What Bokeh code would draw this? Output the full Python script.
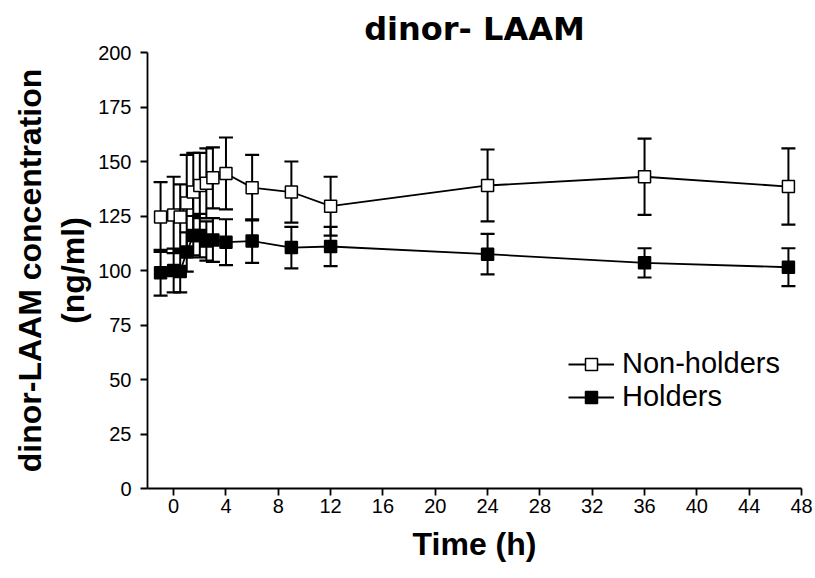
from bokeh.plotting import figure
from bokeh.models import ColumnDataSource, Whisker, TeeHead, Range1d, FixedTicker, Legend, LegendItem
from bokeh.embed import file_html
from bokeh.resources import INLINE

# Data
time_h = [-1, 0, 0.5, 1, 1.5, 2, 2.5, 3, 4, 6, 9, 12, 24, 36, 47]
nonholders_mean = [124.5, 125.5, 124.5, 131, 136, 139, 140, 142.5, 144.5, 138, 136, 129.5, 139, 143, 138.5]
nonholders_sd = [16, 17.5, 15, 22, 18, 15, 16, 14, 16.5, 15, 14, 13.5, 16.5, 17.5, 17.5]
holders_mean = [99, 100, 99.5, 108.5, 116, 116, 113.5, 114, 113, 113.5, 110.5, 111, 107.5, 103.5, 101.5]
holders_sd = [10.5, 10, 9.5, 9, 9, 10, 9, 10, 10.5, 10, 9.5, 9, 9.3, 6.7, 8.7]
x_ticks = [0, 4, 8, 12, 16, 20, 24, 28, 32, 36, 40, 44, 48]
y_ticks = [0, 25, 50, 75, 100, 125, 150, 175, 200]

FONT = "Liberation Sans"

p = figure(width=815, height=578, output_backend="svg", toolbar_location=None,
           x_range=Range1d(-2, 48), y_range=Range1d(0, 200),
           min_border_left=147, min_border_right=14, min_border_top=52, min_border_bottom=90)
p.outline_line_color = None
p.xgrid.visible = False
p.ygrid.visible = False
p.background_fill_color = "white"

p.title.text = "dinor- LAAM"
p.title.text_font = "DejaVu Sans"
p.title.text_font_size = "32px"
p.title.text_font_style = "bold"
p.title.text_color = "black"
p.title.align = "center"
p.title.standoff = 9

for ax in (p.xaxis[0], p.yaxis[0]):
    ax.axis_line_width = 1.8
    ax.major_tick_line_width = 1.8
    ax.major_tick_out = 7
    ax.major_tick_in = 0
    ax.minor_tick_line_color = None
    ax.major_label_text_font = FONT
    ax.major_label_text_font_size = "20px"
    ax.major_label_text_color = "black"
    ax.axis_label_text_font = FONT
    ax.axis_label_text_font_size = "32px"
    ax.axis_label_text_font_style = "bold"
    ax.axis_label_text_color = "black"

p.xaxis.ticker = FixedTicker(ticks=x_ticks)
p.yaxis.ticker = FixedTicker(ticks=y_ticks)
p.xaxis.axis_label = "Time (h)"
p.yaxis.axis_label = "dinor-LAAM concentration\n(ng/ml)"
p.xaxis.major_label_standoff = 3
p.yaxis.major_label_standoff = 9
p.xaxis.axis_label_standoff = 10
p.yaxis.axis_label_standoff = 4

def series(mean, sd):
    return ColumnDataSource(dict(t=time_h, y=mean,
                                 upper=[m + s for m, s in zip(mean, sd)],
                                 lower=[m - s for m, s in zip(mean, sd)]))

src_nh = series(nonholders_mean, nonholders_sd)
src_h = series(holders_mean, holders_sd)

items = []
for src, fill, name in ((src_nh, "white", "Non-holders"), (src_h, "black", "Holders")):
    w = Whisker(base="t", upper="upper", lower="lower", source=src,
                line_width=2, line_color="black",
                upper_head=TeeHead(size=14, line_width=2.2, line_color="black"),
                lower_head=TeeHead(size=14, line_width=2.2, line_color="black"))
    p.add_layout(w)
    ln = p.line("t", "y", source=src, line_color="black", line_width=1.8)
    sc = p.scatter("t", "y", source=src, marker="square", size=12,
                   fill_color=fill, line_color="black", line_width=1.5)
    items.append(LegendItem(label=name, renderers=[ln, sc]))

legend = Legend(items=items, location=(421, 75), orientation="vertical",
                border_line_color=None, background_fill_alpha=0,
                label_text_font=FONT, label_text_font_size="29px",
                label_text_color="black",
                glyph_width=46, glyph_height=30, label_height=30,
                label_standoff=8, padding=0, margin=0, spacing=0)
p.add_layout(legend, "center")

open("out.html", "w").write(file_html(p, INLINE))
